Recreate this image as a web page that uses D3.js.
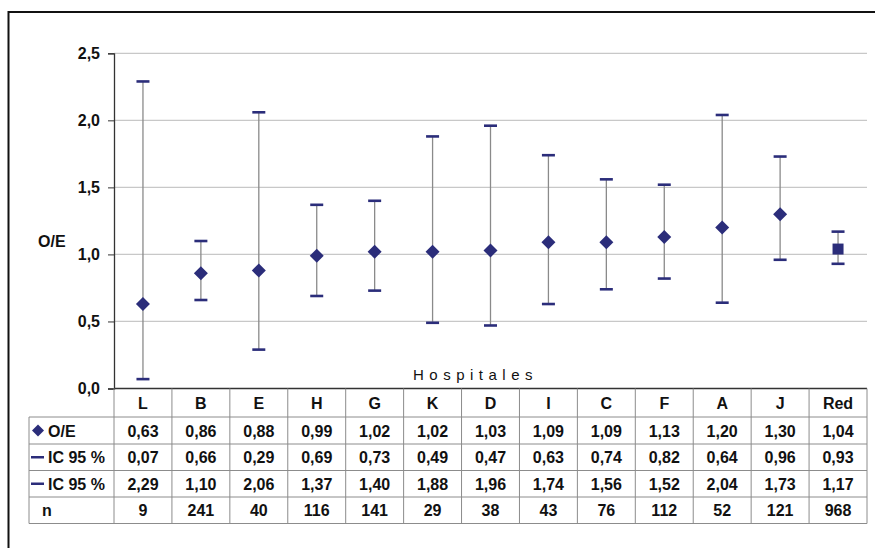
<!DOCTYPE html>
<html><head><meta charset="utf-8">
<script src="https://cdn.jsdelivr.net/npm/d3@7"></script>
<style>
body{margin:0;background:#fff;}
svg{display:block;font-family:"Liberation Sans",Arial,sans-serif;}
</style></head>
<body>
<svg id="chart" width="875" height="548"></svg>
<script>
const categories = ["L","B","E","H","G","K","D","I","C","F","A","J","Red"];
const oe    = [0.63,0.86,0.88,0.99,1.02,1.02,1.03,1.09,1.09,1.13,1.20,1.30,1.04];
const icLow = [0.07,0.66,0.29,0.69,0.73,0.49,0.47,0.63,0.74,0.82,0.64,0.96,0.93];
const icHigh= [2.29,1.10,2.06,1.37,1.40,1.88,1.96,1.74,1.56,1.52,2.04,1.73,1.17];
const nVals = [9,241,40,116,141,29,38,43,76,112,52,121,968];
const yTicks = [0,0.5,1,1.5,2,2.5];
const yTickLabels = ["0,0","0,5","1,0","1,5","2,0","2,5"];
const rowLabels = ["O/E","IC 95 %","IC 95 %","n"];

const navy = "#2b2d7a";
const svg = d3.select("#chart");
const fmt = v => d3.format(".2f")(v).replace(".", ",");
const FS = 16;

// outer frame
svg.append("rect").attr("x",8.5).attr("y",12).attr("width",900).attr("height",600)
  .attr("fill","none").attr("stroke","#111").attr("stroke-width",2);

const x0 = 114, x1 = 867, yTop = 53.3, yBot = 388.5;
const x = d3.scaleBand().domain(categories).range([x0,x1]);
const y = d3.scaleLinear().domain([0,2.5]).range([yBot,yTop]);

// grid
svg.append("g").selectAll("line").data(yTicks.filter(t=>t>0)).join("line")
  .attr("x1",x0).attr("x2",x1).attr("y1",d=>y(d)).attr("y2",d=>y(d))
  .attr("stroke","#c8c8c8").attr("stroke-width",1.3);

// y axis
const yAxis = d3.axisLeft(y).tickValues(yTicks).tickSize(6).tickPadding(8)
  .tickFormat((d,i)=>yTickLabels[i]);
const gy = svg.append("g").attr("transform",`translate(${x0},0)`).call(yAxis);
gy.select(".domain").attr("stroke","#333").attr("stroke-width",1.3);
gy.selectAll(".tick line").attr("stroke","#333");
gy.selectAll(".tick text").attr("font-size",FS).attr("font-weight","bold").attr("fill","#111")
  .attr("font-family","Liberation Sans, Arial, sans-serif");

// axis titles
svg.append("text").attr("x",38).attr("y",247).attr("font-size",FS).attr("font-weight","bold")
  .attr("fill","#111").text("O/E");
svg.append("text").attr("x",413).attr("y",380).attr("font-size",15)
  .attr("letter-spacing","5.5px").attr("fill","#111").text("Hospitales");

// error bars
const idx = d3.range(categories.length);
const cx = i => x(categories[i]) + x.bandwidth()/2;
svg.append("g").selectAll("line").data(idx).join("line")
  .attr("x1",cx).attr("x2",cx).attr("y1",i=>y(icLow[i])).attr("y2",i=>y(icHigh[i]))
  .attr("stroke","#8a8a8a").attr("stroke-width",1.3);
const capW = 13;
["low","high"].forEach(k=>{
  const arr = k==="low"?icLow:icHigh;
  svg.append("g").selectAll("line").data(idx).join("line")
    .attr("x1",i=>cx(i)-capW/2).attr("x2",i=>cx(i)+capW/2)
    .attr("y1",i=>y(arr[i])).attr("y2",i=>y(arr[i]))
    .attr("stroke",navy).attr("stroke-width",2.6);
});
// markers
const last = categories.length-1;
svg.append("g").selectAll("path").data(idx.filter(i=>i!==last)).join("path")
  .attr("d",i=>`M${cx(i)},${y(oe[i])-7}L${cx(i)+7},${y(oe[i])}L${cx(i)},${y(oe[i])+7}L${cx(i)-7},${y(oe[i])}Z`)
  .attr("fill",navy);
svg.append("rect").attr("x",cx(last)-5.5).attr("y",y(oe[last])-5.5).attr("width",11).attr("height",11)
  .attr("fill",navy);

// table
const rows = [388.5, 417, 444, 470.5, 497, 523.5];
const tabLeft = 29;
const tg = svg.append("g");
const gridCol = "#8c8c8c";
rows.forEach((ry,k)=>{
  tg.append("line").attr("x1",k===0?x0:tabLeft).attr("x2",x1).attr("y1",ry).attr("y2",ry)
    .attr("stroke",k===0?"#333":gridCol).attr("stroke-width",k===0?1.3:1);
});
const colEdges = categories.map(c=>x(c)).concat([x1]);
colEdges.forEach(cxv=>{
  tg.append("line").attr("x1",cxv).attr("x2",cxv).attr("y1",rows[0]).attr("y2",rows[5])
    .attr("stroke",gridCol).attr("stroke-width",1);
});
tg.append("line").attr("x1",tabLeft).attr("x2",tabLeft).attr("y1",rows[1]).attr("y2",rows[5])
  .attr("stroke",gridCol).attr("stroke-width",1);
// header
tg.selectAll("text.hdr").data(categories).join("text").attr("class","hdr")
  .attr("x",c=>x(c)+x.bandwidth()/2).attr("y",(rows[0]+rows[1])/2+6)
  .attr("text-anchor","middle").attr("font-size",FS).attr("font-weight","bold").attr("fill","#111").text(c=>c);
const tableData = [oe.map(fmt), icLow.map(fmt), icHigh.map(fmt), nVals.map(String)];
tableData.forEach((vals,r)=>{
  const ym = (rows[r+1]+rows[r+2])/2+6;
  tg.selectAll(`text.r${r}`).data(vals).join("text").attr("class",`r${r}`)
    .attr("x",(v,i)=>cx(i)).attr("y",ym).attr("text-anchor","middle")
    .attr("font-size",FS).attr("font-weight","bold").attr("fill","#111").text(v=>v);
  const lab = tg.append("text").attr("y",ym).attr("font-size",FS).attr("font-weight","bold").attr("fill","#111");
  const my = (rows[r+1]+rows[r+2])/2;
  if (r===0){
    tg.append("path").attr("d",`M38,${my-6}L44,${my}L38,${my+6}L32,${my}Z`).attr("fill",navy);
    lab.attr("x",48).text(rowLabels[r]);
  } else if (r<3){
    tg.append("line").attr("x1",31).attr("x2",44).attr("y1",my).attr("y2",my).attr("stroke",navy).attr("stroke-width",2.5);
    lab.attr("x",48).text(rowLabels[r]);
  } else {
    lab.attr("x",42).text(rowLabels[r]);
  }
});
</script>
</body></html>
